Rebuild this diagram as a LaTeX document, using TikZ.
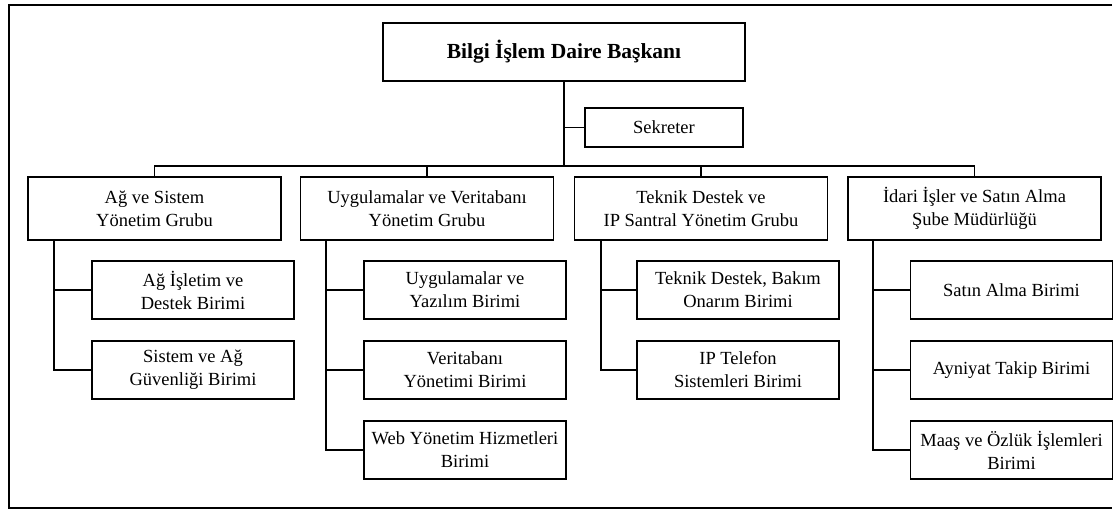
\documentclass[tikz,border=0pt]{standalone}
\usepackage{fontspec}
\setmainfont{Liberation Serif}
\begin{document}
\begin{tikzpicture}[x=1pt,y=-1pt,
  ln/.style={line width=1.6pt, black},
  box/.style={draw, line width=1.6pt, rectangle, inner sep=0pt, align=center,
     font=\fontsize{18.5}{23}\selectfont},
  grp/.style={box, minimum width=253pt, minimum height=63pt},
  unit/.style={box, minimum width=202pt, minimum height=58pt}]
\useasboundingbox (0,0) rectangle (1117,512);
\draw[ln] (1112,5) -- (9,5) -- (9,508) -- (1112,508);

\node[box, minimum width=362pt, minimum height=58pt, font=\fontsize{21.5}{26}\selectfont\bfseries] (top) at (564,52) {Bilgi İşlem Daire Başkanı};
\node[box, minimum width=158pt, minimum height=39pt] (sek) at (664,127.5) {Sekreter};

\node[grp] (g1) at (154.5,208.5) {Ağ ve Sistem\\Yönetim Grubu};
\node[grp] (g2) at (427,208.5) {Uygulamalar ve Veritabanı\\Yönetim Grubu};
\node[grp] (g3) at (701,208.5) {Teknik Destek ve\\IP Santral Yönetim Grubu};
\node[grp] (g4) at (974.5,208.5) {İdari İşler ve Satın Alma\\Şube Müdürlüğü};

\node[unit] (c11) at (193,290) {Ağ İşletim ve\\Destek Birimi};
\node[unit] (c12) at (193,370) {Sistem ve Ağ\\Güvenliği Birimi};
\node[unit] (c21) at (465,290) {Uygulamalar ve\\Yazılım Birimi};
\node[unit] (c22) at (465,370) {Veritabanı\\Yönetimi Birimi};
\node[unit] (c23) at (465,450) {Web Yönetim Hizmetleri\\Birimi};
\node[unit] (c31) at (738,290) {Teknik Destek, Bakım\\Onarım Birimi};
\node[unit] (c32) at (738,370) {IP Telefon\\Sistemleri Birimi};
\node[unit] (c41) at (1011.5,290) {Satın Alma Birimi};
\node[unit] (c42) at (1011.5,370) {Ayniyat Takip Birimi};
\node[unit] (c43) at (1011.5,450) {Maaş ve Özlük İşlemleri\\Birimi};

\coordinate (bus) at (564,166);
\draw[ln] (top.south) -- (bus);
\draw[ln] (sek.west) -- (sek.west -| bus);
\draw[ln] (g1.north) |- (bus);
\draw[ln] (g2.north) |- (bus);
\draw[ln] (g3.north) |- (bus);
\draw[ln] (g4.north) |- (bus);

\coordinate (s1) at (54,240);
\coordinate (s2) at (326,240);
\coordinate (s3) at (601,240);
\coordinate (s4) at (873,240);
\draw[ln] (s1) |- (c11.west);
\draw[ln] (s1) |- (c12.west);
\draw[ln] (s2) |- (c21.west);
\draw[ln] (s2) |- (c22.west);
\draw[ln] (s2) |- (c23.west);
\draw[ln] (s3) |- (c31.west);
\draw[ln] (s3) |- (c32.west);
\draw[ln] (s4) |- (c41.west);
\draw[ln] (s4) |- (c42.west);
\draw[ln] (s4) |- (c43.west);
\end{tikzpicture}
\end{document}
